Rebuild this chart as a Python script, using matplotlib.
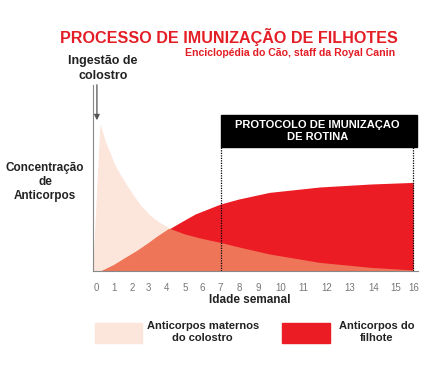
import numpy as np
import matplotlib
matplotlib.use('Agg')
import matplotlib.pyplot as plt
from matplotlib.patches import Rectangle

plt.rcParams['font.family'] = ['Liberation Sans', 'DejaVu Sans']

# semanas (eixo x) e posição de cada rótulo no eixo original (escala não uniforme)
semanas_ticks = [0, 1, 2, 3, 4, 5, 6, 7, 8, 9, 10, 11, 12, 13, 14, 15, 16]
pos_ticks = [96.7, 114.3, 132.3, 149, 166.7, 185, 202.3, 220.7, 239, 258.3,
             280.7, 303.3, 326.7, 350, 373.3, 396, 413.3]

# anticorpos maternos (colostro)
sem_maternos = [-0.21, 0.2, 0.35, 0.5, 0.76, 1, 1.3, 1.67, 2, 2.45, 3.06, 3.5,
                4.18, 5, 6, 7, 8, 9.5, 11.7, 13.9, 16]
maternos = [0, 147, 139, 130, 119, 108, 98, 87, 78, 67, 56, 50,
            42.5, 37, 32.5, 28.6, 24, 17, 8.6, 3.6, 1]

# anticorpos do filhote
sem_filhote = [0.3, 1, 1.63, 2.3, 3, 3.5, 4.18, 4.7, 5.6, 7, 8, 9.5, 11.7, 13.9, 16]
filhote = [0, 6, 13, 20, 28, 34.5, 42.5, 48, 57, 67, 72, 78.6, 84, 87, 88.6]

cor_rosa = '#fce5da'
cor_vermelho = '#ec1c24'
cor_salmao = '#ef7559'

# escala do eixo x segundo a posição dos rótulos
xs = [-1] + semanas_ticks + [17]
ps = [pos_ticks[0] - 17.6] + pos_ticks + [pos_ticks[-1] + 17.3]
def fwd(x):
    return np.interp(x, xs, ps)
def inv(p):
    return np.interp(p, ps, xs)

fig = plt.figure(figsize=(4.46, 3.67), dpi=100)
ax = fig.add_axes([0.2078, 0.2616, 0.7294, 0.5068])
ax.set_xscale('function', functions=(fwd, inv))

ax.fill_between(sem_maternos, maternos, 0, color=cor_rosa, lw=0)
red = ax.fill_between(sem_filhote, filhote, 0, color=cor_vermelho, lw=0)
sobre = ax.fill_between(sem_maternos, maternos, 0, color=cor_salmao, lw=0)
sobre.set_clip_path(red.get_paths()[0], ax.transData)

ax.set_xlim(-0.21, 16.27)
ax.set_ylim(0, 186)

# protocolo de imunização de rotina
ax.vlines([7, 16], 0, 124, colors='black', linestyles=(0, (1, 1)), lw=0.9)
ax.add_patch(Rectangle((7, 124), 9.2, 32, color='black', clip_on=False))
ax.text(11.6, 140, 'PROTOCOLO DE IMUNIZAÇAO\nDE ROTINA', color='white',
        fontsize=8, fontweight='bold', ha='center', va='center', linespacing=1.25)

# seta de ingestão de colostro
ax.annotate('', xy=(0.03, 148), xytext=(0.03, 189),
            arrowprops=dict(arrowstyle='-|>', color='#555555', lw=0.9,
                            mutation_scale=8), annotation_clip=False)

for s in ['top', 'right']:
    ax.spines[s].set_visible(False)
ax.spines['left'].set_color('#888888')
ax.spines['bottom'].set_color('#888888')
ax.set_yticks([])
ax.set_xticks(semanas_ticks)
ax.set_xticklabels([str(s) for s in semanas_ticks], color='#777777', fontsize=7)
ax.xaxis.set_minor_locator(matplotlib.ticker.NullLocator())
ax.tick_params(axis='x', length=0, pad=9)

fig.text(0.5135, 0.899, 'PROCESSO DE IMUNIZAÇÃO DE FILHOTES', color='#e31e26',
         fontsize=11.6, fontweight='bold', ha='center', va='center')
fig.text(0.8857, 0.8556, 'Enciclopédia do Cão, staff da Royal Canin', color='#e31e26',
         fontsize=7.6, fontweight='bold', ha='right', va='center')
fig.text(0.231, 0.8134, 'Ingestão de\ncolostro', fontsize=9, fontweight='bold',
         ha='center', va='center', color='#222222', linespacing=1.35)
fig.text(0.101, 0.504, 'Concentração\nde\nAnticorpos', fontsize=8.5, fontweight='bold',
         ha='center', va='center', color='#222222')
fig.text(0.5605, 0.1826, 'Idade semanal', fontsize=8.5, fontweight='bold',
         ha='center', va='center', color='#222222')

# legenda
fig.patches.append(Rectangle((0.213, 0.0662), 0.1047, 0.0545, color=cor_rosa,
                             transform=fig.transFigure, figure=fig))
fig.patches.append(Rectangle((0.632, 0.0662), 0.1076, 0.0545, color=cor_vermelho,
                             transform=fig.transFigure, figure=fig))
fig.text(0.4545, 0.0954, 'Anticorpos maternos\ndo colostro', fontsize=8, fontweight='bold',
         ha='center', va='center', color='#222222')
fig.text(0.8446, 0.0954, 'Anticorpos do\nfilhote', fontsize=8, fontweight='bold',
         ha='center', va='center', color='#222222')

fig.savefig('out.png', dpi=100)
